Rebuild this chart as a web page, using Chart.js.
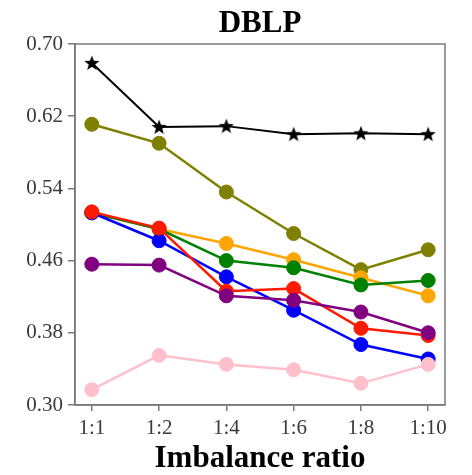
<!DOCTYPE html>
<html>
<head>
<meta charset="utf-8">
<script src="https://cdn.jsdelivr.net/npm/chart.js@4"></script>
<style>
  html, body { margin: 0; padding: 0; background: #fff; }
  #wrap { width: 472px; height: 475px; }
</style>
</head>
<body>
<div id="wrap"><canvas id="c" width="472" height="475"></canvas></div>
<script>
const categories = ["1:1", "1:2", "1:4", "1:6", "1:8", "1:10"];
const yTicks = [0.30, 0.38, 0.46, 0.54, 0.62, 0.70];

const blackVals  = [0.679, 0.608, 0.609, 0.600, 0.601, 0.600];
const oliveVals  = [0.611, 0.590, 0.536, 0.490, 0.450, 0.472];
const orangeVals = [0.513, 0.495, 0.479, 0.461, 0.441, 0.421];
const greenVals  = [0.513, 0.495, 0.460, 0.452, 0.433, 0.438];
const blueVals   = [0.513, 0.482, 0.442, 0.405, 0.367, 0.351];
const redVals    = [0.514, 0.496, 0.426, 0.429, 0.385, 0.377];
const purpleVals = [0.456, 0.455, 0.421, 0.416, 0.403, 0.380];
const pinkVals   = [0.317, 0.355, 0.345, 0.339, 0.324, 0.345];

function starCanvas(size, color) {
  const c = document.createElement('canvas');
  c.width = size; c.height = size;
  const g = c.getContext('2d');
  const cx = size / 2, cy = size / 2 + 0.5, R = size / 2, r = R * 0.42;
  g.beginPath();
  for (let i = 0; i < 10; i++) {
    const rad = i % 2 === 0 ? R : r;
    const a = -Math.PI / 2 + i * Math.PI / 5;
    const px = cx + rad * Math.cos(a), py = cy + rad * Math.sin(a);
    if (i === 0) g.moveTo(px, py); else g.lineTo(px, py);
  }
  g.closePath();
  g.fillStyle = color;
  g.fill();
  return c;
}

function pts(vals) { return vals.map((v, i) => ({ x: i, y: v })); }

function ds(vals, color, extra) {
  return Object.assign({
    data: pts(vals),
    borderColor: color,
    backgroundColor: color,
    pointBackgroundColor: color,
    pointBorderColor: color,
    borderWidth: 2.5,
    pointRadius: 7,
    pointBorderWidth: 1,
    pointHoverRadius: 7,
    tension: 0
  }, extra || {});
}

const star = starCanvas(16, '#000000');

const frame = {
  id: 'frame',
  afterDatasetsDraw(chart) {
    const a = chart.chartArea, g = chart.ctx;
    g.save();
    g.strokeStyle = '#7a7a7a';
    g.lineWidth = 1.5;
    g.strokeRect(a.left, a.top, a.right - a.left, a.bottom - a.top);
    g.restore();
  }
};

const tickFont = { family: "'Liberation Serif', 'DejaVu Serif', serif", size: 21 };

new Chart(document.getElementById('c'), {
  type: 'line',
  data: {
    datasets: [
      ds(pinkVals, '#ffc0cb'),
      ds(purpleVals, '#800080'),
      ds(redVals, '#ff1a00'),
      ds(blueVals, '#0000ff'),
      ds(greenVals, '#008000'),
      ds(orangeVals, '#ffa500'),
      ds(oliveVals, '#808000'),
      ds(blackVals, '#000000', { pointStyle: star, pointRadius: 8, borderWidth: 2 })
    ]
  },
  options: {
    responsive: false,
    animation: false,
    events: [],
    layout: { padding: { left: 0, right: 27, top: 0, bottom: 0 } },
    plugins: {
      legend: { display: false },
      tooltip: { enabled: false },
      title: {
        display: true,
        text: 'DBLP',
        fullSize: false,
        color: '#000',
        font: { family: "'Liberation Serif', serif", size: 31, weight: 'bold', lineHeight: 1.1 },
        padding: { top: 7, bottom: 2.9 }
      }
    },
    scales: {
      x: {
        type: 'linear',
        min: -0.25,
        max: 5.25,
        afterBuildTicks: s => { s.ticks = categories.map((_, i) => ({ value: i })); },
        afterFit: s => { s.height = 70; },
        ticks: {
          callback: v => categories[v],
          color: '#3a3a3a',
          font: tickFont,
          padding: 5,
          maxRotation: 0,
          autoSkip: false
        },
        grid: { drawOnChartArea: false, drawTicks: true, tickLength: 6, color: '#7a7a7a', lineWidth: 1.5 },
        border: { display: true, color: '#7a7a7a', width: 1.5 },
        title: {
          display: true,
          text: 'Imbalance ratio',
          color: '#000',
          font: { family: "'Liberation Serif', serif", size: 31, weight: 'bold', lineHeight: 1.0 },
          padding: { top: 0, bottom: 1 }
        }
      },
      y: {
        type: 'linear',
        min: 0.30,
        max: 0.70,
        afterBuildTicks: s => { s.ticks = yTicks.map(v => ({ value: v })); },
        afterFit: s => { s.width = 75; },
        ticks: {
          callback: v => Number(v).toFixed(2),
          color: '#3a3a3a',
          font: tickFont,
          padding: 5
        },
        grid: { drawOnChartArea: false, drawTicks: true, tickLength: 7, color: '#7a7a7a', lineWidth: 1.5 },
        border: { display: true, color: '#7a7a7a', width: 1.5 }
      }
    }
  },
  plugins: [frame]
});
</script>
</body>
</html>
